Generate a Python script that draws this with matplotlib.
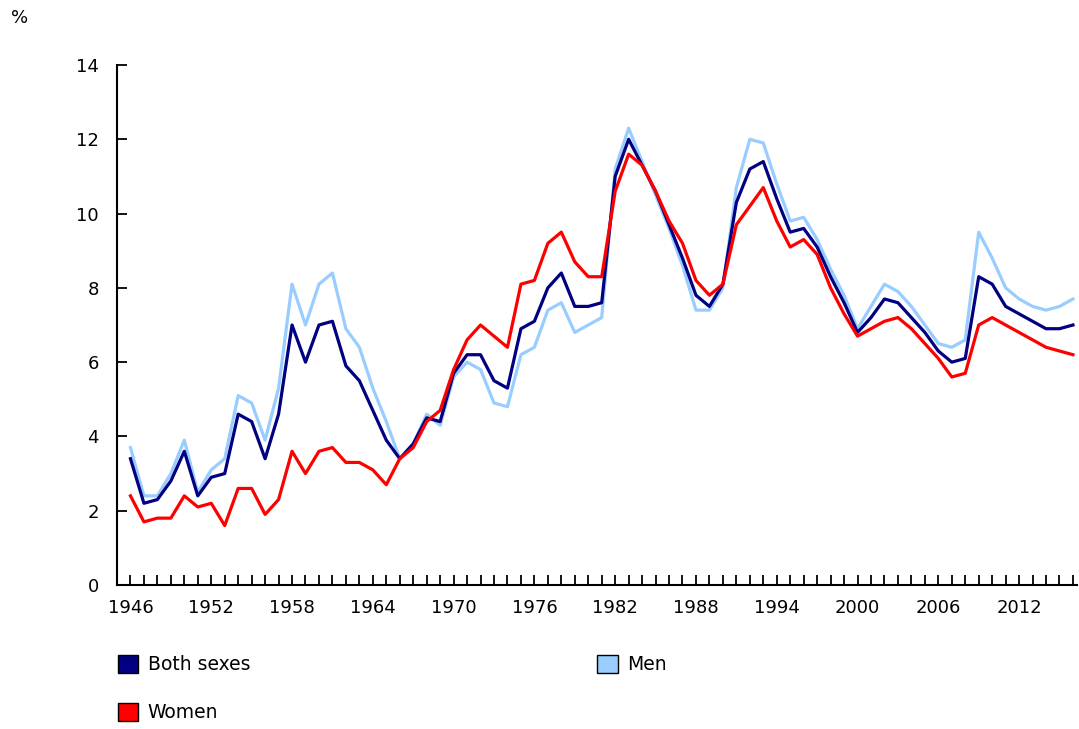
import matplotlib
matplotlib.use("Agg")
import matplotlib.pyplot as plt
from matplotlib.patches import Patch

years = list(range(1946, 2017))

both_sexes = [
    3.4, 2.2, 2.3, 2.8, 3.6, 2.4, 2.9, 3.0, 4.6, 4.4,
    3.4, 4.6, 7.0, 6.0, 7.0, 7.1, 5.9, 5.5, 4.7, 3.9,
    3.4, 3.8, 4.5, 4.4, 5.7, 6.2, 6.2, 5.5, 5.3, 6.9,
    7.1, 8.0, 8.4, 7.5, 7.5, 7.6, 11.0, 12.0, 11.3, 10.6,
    9.7, 8.8, 7.8, 7.5, 8.1, 10.3, 11.2, 11.4, 10.4, 9.5,
    9.6, 9.1, 8.3, 7.6, 6.8, 7.2, 7.7, 7.6, 7.2, 6.8,
    6.3, 6.0, 6.1, 8.3, 8.1, 7.5, 7.3, 7.1, 6.9, 6.9,
    7.0,
]
men = [
    3.7, 2.4, 2.4, 3.0, 3.9, 2.5, 3.1, 3.4, 5.1, 4.9,
    3.9, 5.3, 8.1, 7.0, 8.1, 8.4, 6.9, 6.4, 5.3, 4.4,
    3.4, 3.8, 4.6, 4.3, 5.6, 6.0, 5.8, 4.9, 4.8, 6.2,
    6.4, 7.4, 7.6, 6.8, 7.0, 7.2, 11.2, 12.3, 11.4, 10.5,
    9.6, 8.6, 7.4, 7.4, 8.0, 10.7, 12.0, 11.9, 10.8, 9.8,
    9.9, 9.3, 8.5, 7.8, 6.9, 7.5, 8.1, 7.9, 7.5, 7.0,
    6.5, 6.4, 6.6, 9.5, 8.8, 8.0, 7.7, 7.5, 7.4, 7.5,
    7.7,
]
women = [
    2.4, 1.7, 1.8, 1.8, 2.4, 2.1, 2.2, 1.6, 2.6, 2.6,
    1.9, 2.3, 3.6, 3.0, 3.6, 3.7, 3.3, 3.3, 3.1, 2.7,
    3.4, 3.7, 4.4, 4.7, 5.8, 6.6, 7.0, 6.7, 6.4, 8.1,
    8.2, 9.2, 9.5, 8.7, 8.3, 8.3, 10.6, 11.6, 11.3, 10.6,
    9.8, 9.2, 8.2, 7.8, 8.1, 9.7, 10.2, 10.7, 9.8, 9.1,
    9.3, 8.9, 8.0, 7.3, 6.7, 6.9, 7.1, 7.2, 6.9, 6.5,
    6.1, 5.6, 5.7, 7.0, 7.2, 7.0, 6.8, 6.6, 6.4, 6.3,
    6.2,
]

labels = ["Both sexes", "Women", "Men"]
colors = {"Both sexes": "#000080", "Men": "#99ccff", "Women": "#ff0000"}

plt.rcParams["font.family"] = ["DejaVu Sans"]

fig = plt.figure(figsize=(10.79, 7.29), dpi=100)
ax = fig.add_axes([117 / 1079, 1 - 585 / 729, (1077 - 117) / 1079, (585 - 65) / 729])

ax.plot(years, both_sexes, color=colors["Both sexes"], linewidth=2.3, zorder=3)
ax.plot(years, men, color=colors["Men"], linewidth=2.3, zorder=2)
ax.plot(years, women, color=colors["Women"], linewidth=2.3, zorder=4)

ax.set_xlim(1945, 2016.3)
ax.set_ylim(0, 14)
ax.set_yticks(range(0, 15, 2))
ax.set_xticks(years)
ax.set_xticklabels([str(y) if (y - 1946) % 6 == 0 else "" for y in years])

for side in ("top", "right"):
    ax.spines[side].set_visible(False)
for side in ("left", "bottom"):
    ax.spines[side].set_linewidth(1.5)
    ax.spines[side].set_color("black")

ax.tick_params(axis="y", direction="in", length=7, width=1.3, pad=13, labelsize=13)
ax.tick_params(axis="x", direction="in", length=7, width=1.3, pad=10, labelsize=13)

fig.text(20 / 1079, 1 - 18 / 729, "%", fontsize=13, ha="center", va="center")

handles = [Patch(facecolor=colors[k], edgecolor="black", linewidth=1.0) for k in labels]
fig.legend(
    handles,
    labels,
    ncol=2,
    loc="upper left",
    bbox_to_anchor=(110 / 1079, 1 - 647 / 729),
    frameon=False,
    fontsize=13.5,
    handlelength=1.1,
    handleheight=1.1,
    handletextpad=0.5,
    columnspacing=18.5,
    labelspacing=1.55,
    borderaxespad=0,
)

fig.savefig("out.png", dpi=100)
